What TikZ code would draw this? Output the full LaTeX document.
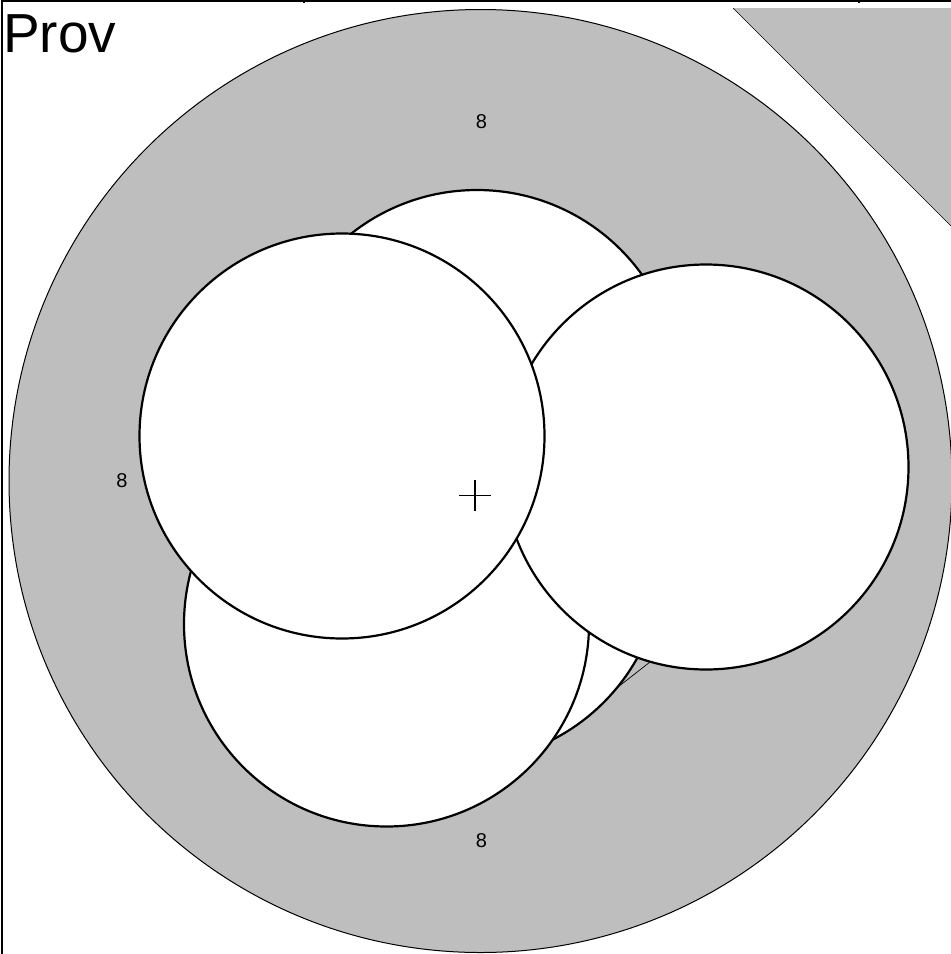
\documentclass[tikz,border=0pt]{standalone}
\usepackage{fontspec}
\setmainfont{Liberation Sans}
\definecolor{ringgray}{gray}{0.745}
\tikzset{
  disc/.style={draw=black,fill=white,line width=2.2pt},
  ring/.style={draw=black,fill=ringgray,line width=1pt},
  thinline/.style={draw=black,line width=0.7pt},
  frameline/.style={draw=black,line width=1.6pt},
  lab/.style={font=\fontsize{20}{20}\selectfont,inner sep=0pt,text=black}
}
\begin{document}
\begin{tikzpicture}[x=1pt,y=-1pt]
\useasboundingbox (0,0) rectangle (951,954);
\begin{scope}
\clip (0,0) rectangle (951,954);
\fill[white] (0,0) rectangle (951,954);
% frame
\draw[frameline] (2,954) -- (2,0.8) -- (951,0.8);
\draw[frameline] (304,0) -- (304,3);
\draw[frameline] (859,0) -- (859,3);
% corner triangle
\fill[ringgray] (733,8) -- (951,8) -- (951,226) -- cycle;
\draw[thinline] (733,8) -- (951,226);
% big disc
\draw[ring] (480.5,481) circle[radius=471.5];
\draw[thinline] (650,662) -- (618,687);
% small discs
\draw[disc] (477,393) circle[radius=203];
\draw[disc] (460,559) circle[radius=203];
\draw[disc] (386.5,624) circle[radius=202.5];
\draw[disc] (706,467) circle[radius=202.5];
\draw[disc] (342,436) circle[radius=202.5];
% cross
\coordinate (cw) at (459,495.5);
\coordinate (ce) at (491,495.5);
\coordinate (cn) at (475,480);
\coordinate (cs) at (475,511);
\draw[line width=1.1pt] (cw) -- (ce);
\draw[line width=1.1pt] (cn) -- (cs);
\end{scope}
\node[lab] (a) at (481.5,122) {8};
\node[lab] (b) at (122,481) {8};
\node[lab] (c) at (481.5,841) {8};
\node[font=\fontsize{55}{55}\selectfont,anchor=base west,inner sep=0pt] (t) at (3,52) {Prov};
\end{tikzpicture}
\end{document}
